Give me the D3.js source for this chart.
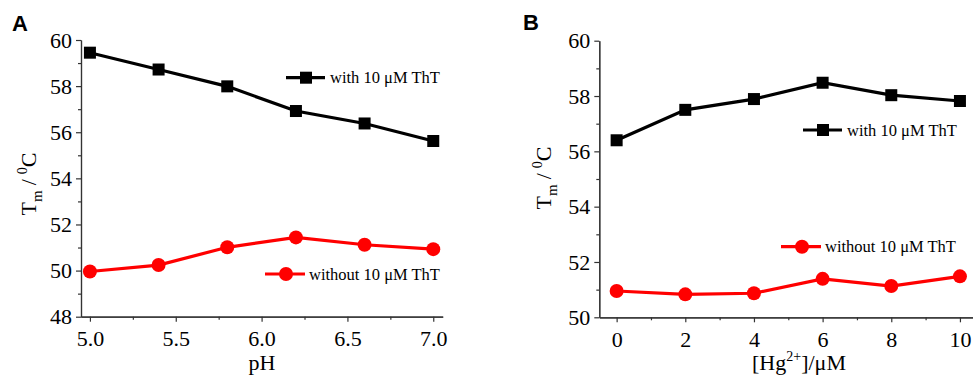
<!DOCTYPE html>
<html>
<head>
<meta charset="utf-8">
<script src="https://cdn.jsdelivr.net/npm/d3@7"></script>
<style>
  body { margin: 0; background: #fff; }
  svg { display: block; }
</style>
</head>
<body>
<svg width="973" height="377"></svg>
<script>
// panel A : Tm vs pH
const phValues = [5.0, 5.4, 5.8, 6.2, 6.6, 7.0];
const phWith = [59.45, 58.72, 57.99, 56.92, 56.38, 55.62];
const phWithout = [49.96, 50.24, 51.01, 51.44, 51.12, 50.93];
const phTicks = [5.0, 5.5, 6.0, 6.5, 7.0];
const phMinor = [5.25, 5.75, 6.25, 6.75];
const tmTicksA = [48, 50, 52, 54, 56, 58, 60];
const tmMinorA = [49, 51, 53, 55, 57, 59];

// panel B : Tm vs [Hg2+]
const hgValues = [0, 2, 4, 6, 8, 10];
const hgWith = [56.4, 57.5, 57.89, 58.48, 58.03, 57.82];
const hgWithout = [50.95, 50.83, 50.87, 51.39, 51.13, 51.48];
const hgTicks = [0, 2, 4, 6, 8, 10];
const hgMinor = [1, 3, 5, 7, 9];
const tmTicksB = [50, 52, 54, 56, 58, 60];
const tmMinorB = [51, 53, 55, 57, 59];

const legendWith = "with 10 \u03BCM ThT";
const legendWithout = "without 10 \u03BCM ThT";

const serif = "Liberation Serif";

let svg = d3.select("svg");

function styleAxis(sel) {
  // d3 puts font-family="sans-serif" on the axis group, override it
  sel.attr("font-family", serif).attr("font-size", 22);
  sel.selectAll("path, line").style("stroke", "#333").style("stroke-width", 1.2);
  sel.selectAll("text").attr("font-family", serif).style("font-family", serif)
    .style("font-size", "22px").style("fill", "#000");
}

function drawPanel(opt) {
  let g = svg.append("g").attr("font-family", serif);
  let x = opt.x, y = opt.y;

  // minor ticks first
  g.append("g")
    .attr("transform", "translate(0," + y.range()[0] + ")")
    .call(d3.axisBottom(x).tickValues(opt.xMinor).tickSize(3).tickSizeOuter(0).tickFormat(""))
    .call(styleAxis);
  g.append("g")
    .attr("transform", "translate(" + x.range()[0] + ",0)")
    .call(d3.axisLeft(y).tickValues(opt.yMinor).tickSize(3).tickSizeOuter(0).tickFormat(""))
    .call(styleAxis);

  g.append("g")
    .attr("transform", "translate(0," + y.range()[0] + ")")
    .call(d3.axisBottom(x).tickValues(opt.xTicks).tickSize(5).tickSizeOuter(0)
      .tickPadding(9).tickFormat(opt.xFormat))
    .call(styleAxis);
  g.append("g")
    .attr("transform", "translate(" + x.range()[0] + ",0)")
    .call(d3.axisLeft(y).tickValues(opt.yTicks).tickSize(5).tickSizeOuter(0)
      .tickPadding(4).tickFormat(d3.format("d")))
    .call(styleAxis);

  let line = d3.line().x(d => x(d[0])).y(d => y(d[1]));
  let black = opt.xs.map((v, i) => [v, opt.withT[i]]);
  let red = opt.xs.map((v, i) => [v, opt.withoutT[i]]);

  g.append("path").datum(black).attr("fill", "none").attr("stroke", "#000")
    .attr("stroke-width", 3.2).attr("d", line);
  g.selectAll(".sq").data(black).enter().append("rect")
    .attr("x", d => x(d[0]) - 6).attr("y", d => y(d[1]) - 6)
    .attr("width", 12).attr("height", 12).attr("fill", "#000");

  g.append("path").datum(red).attr("fill", "none").attr("stroke", "#ff0000")
    .attr("stroke-width", 3.2).attr("d", line);
  g.selectAll(".dot").data(red).enter().append("circle")
    .attr("cx", d => x(d[0])).attr("cy", d => y(d[1]))
    .attr("r", 7).attr("fill", "#ff0000");

  // legend
  let lw = opt.legWith, lo = opt.legWithout;
  g.append("line").attr("x1", lw[0]).attr("x2", lw[0] + 39).attr("y1", lw[1]).attr("y2", lw[1])
    .attr("stroke", "#000").attr("stroke-width", 3.2);
  g.append("rect").attr("x", lw[0] + 14).attr("y", lw[1] - 6).attr("width", 12).attr("height", 12).attr("fill", "#000");
  g.append("text").attr("x", lw[0] + 44).attr("y", lw[1] + 5.5)
    .attr("font-family", serif).attr("font-size", 16.5).text(legendWith);

  g.append("line").attr("x1", lo[0]).attr("x2", lo[0] + 40).attr("y1", lo[1]).attr("y2", lo[1])
    .attr("stroke", "#ff0000").attr("stroke-width", 3.2);
  g.append("circle").attr("cx", lo[0] + 21).attr("cy", lo[1]).attr("r", 7).attr("fill", "#ff0000");
  g.append("text").attr("x", lo[0] + 44).attr("y", lo[1] + 5.5)
    .attr("font-family", serif).attr("font-size", 16.5).text(legendWithout);

  // panel letter
  g.append("text").attr("x", opt.letter[0]).attr("y", opt.letter[1])
    .attr("font-family", "Liberation Sans").attr("font-weight", "bold")
    .attr("font-size", 22).text(opt.letterText);

  // y title
  let yt = g.append("text").attr("transform", "translate(" + opt.yTitle[0] + "," + opt.yTitle[1] + ") rotate(-90)")
    .attr("text-anchor", "middle").attr("font-family", serif).attr("font-size", 22);
  yt.append("tspan").text("T");
  yt.append("tspan").attr("font-size", 15).attr("dy", 6).text("m");
  yt.append("tspan").attr("dy", -6).attr("dx", 5).text("/");
  yt.append("tspan").attr("font-size", 14).attr("dy", -9).attr("dx", 5).text("0");
  yt.append("tspan").attr("dy", 9).text("C");

  // x title
  let xt = g.append("text").attr("x", opt.xTitleX).attr("y", 370)
    .attr("text-anchor", "middle").attr("font-family", serif).attr("font-size", 22);
  opt.xTitle(xt);
}

drawPanel({
  x: d3.scaleLinear().domain([4.948, 7.055]).range([81, 442.7]),
  y: d3.scaleLinear().domain([48, 60]).range([316.7, 40]),
  xTicks: phTicks, xMinor: phMinor, yTicks: tmTicksA, yMinor: tmMinorA,
  xFormat: d3.format(".1f"),
  xs: phValues, withT: phWith, withoutT: phWithout,
  legWith: [286, 77.7], legWithout: [265, 274],
  letter: [12, 31], letterText: "A",
  yTitle: [36, 184], xTitleX: 262,
  xTitle: t => t.text("pH")
});

drawPanel({
  x: d3.scaleLinear().domain([-0.505, 11.1]).range([599.3, 997.7]),
  y: d3.scaleLinear().domain([50, 60]).range([317.3, 40.7]),
  xTicks: hgTicks, xMinor: hgMinor, yTicks: tmTicksB, yMinor: tmMinorB,
  xFormat: d3.format("d"),
  xs: hgValues, withT: hgWith, withoutT: hgWithout,
  legWith: [803, 130], legWithout: [781, 246.7],
  letter: [523, 29.5], letterText: "B",
  yTitle: [551, 178], xTitleX: 799,
  xTitle: t => {
    t.append("tspan").text("[Hg");
    t.append("tspan").attr("font-size", 14).attr("dy", -9).text("2+");
    t.append("tspan").attr("dy", 9).text("]/\u03BCM");
  }
});
</script>
</body>
</html>
